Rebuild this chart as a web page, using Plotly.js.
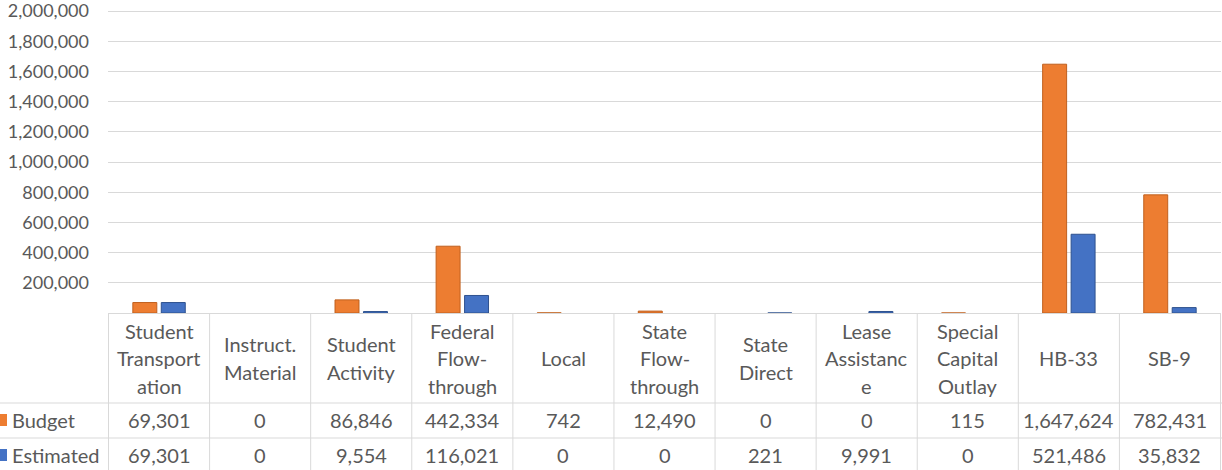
<!DOCTYPE html>
<html>
<head>
<meta charset="utf-8">
<script src="https://cdn.plot.ly/plotly-3.0.1.min.js"></script>
<style>
  html, body { margin: 0; padding: 0; background: #ffffff; }
  #chart { width: 1222px; height: 470px; }
</style>
</head>
<body>
<div id="chart"></div>
<script>
// ---- data ----
const categories = ['Student Transportation', 'Instruct. Material', 'Student Activity', 'Federal Flow-through', 'Local', 'State Flow-through', 'State Direct', 'Lease Assistance', 'Special Capital Outlay', 'HB-33', 'SB-9'];
const headerLabels = [
  ['Student', 'Transport', 'ation'],
  ['Instruct.', 'Material'],
  ['Student', 'Activity'],
  ['Federal', 'Flow-', 'through'],
  ['Local'],
  ['State', 'Flow-', 'through'],
  ['State', 'Direct'],
  ['Lease', 'Assistanc', 'e'],
  ['Special', 'Capital', 'Outlay'],
  ['HB-33'],
  ['SB-9']
];
const seriesNames = ['Budget', 'Estimated'];
const budget = [69301, 0, 86846, 442334, 742, 12490, 0, 0, 115, 1647624, 782431];
const estimated = [69301, 0, 9554, 116021, 0, 0, 221, 9991, 0, 521486, 35832];
const yTicks = [200000, 400000, 600000, 800000, 1000000, 1200000, 1400000, 1600000, 1800000, 2000000];

// ---- style ----
const FONT = 'Lato, "Open Sans", sans-serif';
const TEXT = '#595959';
const GRID = '#d9d9d9';
const FILL = ['#ED7D31', '#4472C4'];
const EDGE = ['#C0601E', '#2F528F'];

const W = 1222, H = 470;
const M = {l: 108, r: 1, t: 8, b: 157};
const plotW = W - M.l - M.r;
const plotH = H - M.t - M.b;
const axisY = M.t + plotH;               // pixel y of zero line / table top
const py = p => (axisY - p) / plotH;     // pixel y -> paper y
const px = p => (p - M.l) / plotW;       // pixel x -> paper x
const topTickPx = 11;                    // pixel y of the highest tick
const yMax = yTicks[yTicks.length - 1] * plotH / (axisY - topTickPx);

const headerTop = axisY, headerBottom = 403;
const rowLines = [403, 438];
const rowCenters = [420, 455];
const lineStep = 27.5;
const TABLE_SIZE = 20;

const fmt = v => v.toLocaleString('en-US');
const series = [budget, estimated];

const traces = series.map((vals, i) => ({
  type: 'bar',
  name: seriesNames[i],
  x: categories,
  y: vals.map(v => (v === 0 ? null : v)),   // zero values draw no mark
  marker: {color: FILL[i], line: {color: EDGE[i], width: 1}},
  hoverinfo: 'skip'
}));

const shapes = [];
const annotations = [];

// vertical column borders of the data table
for (let i = 0; i <= categories.length; i++) {
  shapes.push({type: 'line', xref: 'x', yref: 'paper', x0: i - 0.5, x1: i - 0.5,
    y0: py(headerTop), y1: py(H + 2), line: {color: GRID, width: 1}});
}
// horizontal row borders
rowLines.forEach(r => {
  shapes.push({type: 'line', xref: 'paper', yref: 'paper', x0: px(0), x1: px(W),
    y0: py(r), y1: py(r), line: {color: GRID, width: 1}});
});
// header labels
headerLabels.forEach((lines, i) => {
  const mid = (headerTop + headerBottom) / 2;
  lines.forEach((t, k) => {
    const yc = mid + (k - (lines.length - 1) / 2) * lineStep;
    annotations.push({xref: 'x', yref: 'paper', x: categories[i], y: py(yc),
      text: t, showarrow: false, xanchor: 'center', yanchor: 'middle',
      font: {family: FONT, size: TABLE_SIZE, color: TEXT}});
  });
});
// value rows + legend keys
series.forEach((vals, s) => {
  const yc = rowCenters[s];
  shapes.push({type: 'rect', xref: 'paper', yref: 'paper', x0: px(-5), x1: px(7),
    y0: py(yc - 6), y1: py(yc + 6), fillcolor: FILL[s], line: {width: 0}});
  annotations.push({xref: 'paper', yref: 'paper', x: px(10), y: py(yc),
    text: seriesNames[s], showarrow: false, xanchor: 'left', yanchor: 'middle',
    font: {family: FONT, size: TABLE_SIZE, color: TEXT}});
  vals.forEach((v, i) => {
    annotations.push({xref: 'x', yref: 'paper', x: categories[i], y: py(yc),
      text: fmt(v), showarrow: false, xanchor: 'center', yanchor: 'middle',
      font: {family: FONT, size: TABLE_SIZE, color: TEXT}});
  });
});

const layout = {
  width: W, height: H,
  margin: M,
  paper_bgcolor: '#ffffff',
  plot_bgcolor: '#ffffff',
  showlegend: false,
  barmode: 'group',
  bargap: 0.437,
  bargroupgap: 0.158,
  hovermode: false,
  font: {family: FONT, size: 18, color: TEXT},
  xaxis: {type: 'category', showticklabels: false, showgrid: false, zeroline: false,
    showline: false, ticks: '', fixedrange: true},
  yaxis: {range: [0, yMax], tickvals: yTicks, ticktext: yTicks.map(fmt),
    showgrid: true, gridcolor: GRID, gridwidth: 1, zeroline: true, zerolinecolor: GRID,
    zerolinewidth: 1, showline: false, ticks: '', ticklabelstandoff: 18,
    ticklabeloverflow: 'allow',
    tickfont: {family: FONT, size: 18, color: TEXT}, fixedrange: true},
  shapes: shapes,
  annotations: annotations
};

Plotly.newPlot('chart', traces, layout, {displayModeBar: false, staticPlot: true});
</script>
</body>
</html>
